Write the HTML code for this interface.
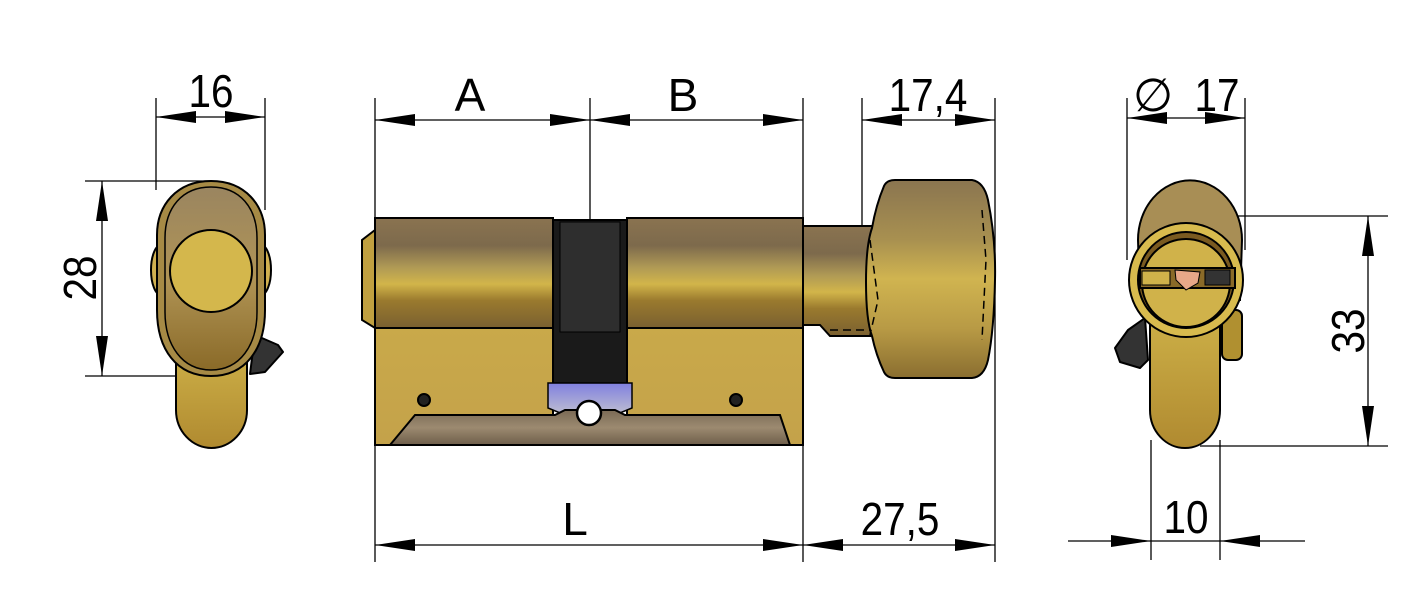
<!DOCTYPE html>
<html><head><meta charset="utf-8"><style>
html,body{margin:0;padding:0;background:#fff;width:1417px;height:606px;overflow:hidden}
svg{display:block}
text{font-family:"Liberation Sans",sans-serif;font-size:46px;fill:#000}
</style></head><body>
<svg width="1417" height="606" viewBox="0 0 1417 606" xmlns="http://www.w3.org/2000/svg">
<defs>
<linearGradient id="br" x1="0" y1="0" x2="0" y2="1">
<stop offset="0" stop-color="#8a7350"/><stop offset="0.25" stop-color="#7d6a4c"/><stop offset="0.45" stop-color="#b09a55"/><stop offset="0.6" stop-color="#d2b54a"/><stop offset="0.75" stop-color="#9a7a2e"/><stop offset="1" stop-color="#7a6030"/>
</linearGradient>
<linearGradient id="gd" x1="0" y1="0" x2="0" y2="1">
<stop offset="0" stop-color="#c9a94a"/><stop offset="1" stop-color="#c4a24a"/>
</linearGradient>
<linearGradient id="gr" x1="0" y1="0" x2="0" y2="1">
<stop offset="0" stop-color="#7a6a55"/><stop offset="0.5" stop-color="#9c8a70"/><stop offset="1" stop-color="#6e5e4a"/>
</linearGradient>
<linearGradient id="kn" x1="0" y1="0" x2="0" y2="1">
<stop offset="0" stop-color="#8a7550"/><stop offset="0.3" stop-color="#a89050"/><stop offset="0.5" stop-color="#d0b450"/><stop offset="0.75" stop-color="#b89a45"/><stop offset="1" stop-color="#8a6e30"/>
</linearGradient>
<linearGradient id="tab" x1="0" y1="0" x2="0" y2="1">
<stop offset="0" stop-color="#d0b44a"/><stop offset="1" stop-color="#b08a30"/>
</linearGradient>
<linearGradient id="lv" x1="0" y1="0" x2="0" y2="1">
<stop offset="0" stop-color="#9a8560"/><stop offset="0.5" stop-color="#b09455"/><stop offset="1" stop-color="#8a6a28"/>
</linearGradient>
<linearGradient id="blu" x1="0" y1="0" x2="0" y2="1">
<stop offset="0" stop-color="#8080e0"/><stop offset="1" stop-color="#c0c0d0"/>
</linearGradient>
</defs>

<g stroke="#000" stroke-width="1.3" fill="none">
<line x1="156" y1="98" x2="156" y2="190"/><line x1="265" y1="98" x2="265" y2="210"/>
<line x1="156" y1="117" x2="265" y2="117"/>
<line x1="85" y1="181" x2="210" y2="181"/><line x1="85" y1="376" x2="190" y2="376"/>
<line x1="102" y1="181" x2="102" y2="376"/>
<line x1="375" y1="98" x2="375" y2="562"/><line x1="590" y1="98" x2="590" y2="420"/>
<line x1="803" y1="98" x2="803" y2="562"/><line x1="862" y1="98" x2="862" y2="228"/>
<line x1="995" y1="98" x2="995" y2="562"/>
<line x1="375" y1="120" x2="803" y2="120"/><line x1="862" y1="120" x2="995" y2="120"/>
<line x1="375" y1="545" x2="995" y2="545"/>
<line x1="1127" y1="98" x2="1127" y2="260"/><line x1="1245" y1="98" x2="1245" y2="250"/>
<line x1="1127" y1="118" x2="1245" y2="118"/>
<line x1="1200" y1="216" x2="1388" y2="216"/><line x1="1200" y1="446" x2="1388" y2="446"/>
<line x1="1368" y1="216" x2="1368" y2="446"/>
<line x1="1151" y1="440" x2="1151" y2="560"/><line x1="1220" y1="440" x2="1220" y2="560"/>
<line x1="1068" y1="541" x2="1305" y2="541"/>
</g>

<g fill="#000">
<polygon points="156,117 196,111 196,123"/><polygon points="265,117 225,111 225,123"/>
<polygon points="102,181 96,221 108,221"/><polygon points="102,376 96,336 108,336"/>
<polygon points="375,120 415,114 415,126"/><polygon points="590,120 550,114 550,126"/>
<polygon points="590,120 630,114 630,126"/><polygon points="803,120 763,114 763,126"/>
<polygon points="862,120 902,114 902,126"/><polygon points="995,120 955,114 955,126"/>
<polygon points="375,545 415,539 415,551"/><polygon points="803,545 763,539 763,551"/>
<polygon points="803,545 843,539 843,551"/><polygon points="995,545 955,539 955,551"/>
<polygon points="1127,118 1167,112 1167,124"/><polygon points="1245,118 1205,112 1205,124"/>
<polygon points="1368,216 1362,256 1374,256"/><polygon points="1368,446 1362,406 1374,406"/>
<polygon points="1151,541 1111,535 1111,547"/><polygon points="1220,541 1260,535 1260,547"/>
</g>

<g>
<text x="211" y="107" text-anchor="middle" transform="translate(211 0) scale(0.88 1) translate(-211 0)">16</text>
<text transform="translate(96 278) rotate(-90) scale(0.88 1)" text-anchor="middle">28</text>
<text x="470" y="111" text-anchor="middle">A</text>
<text x="683" y="111" text-anchor="middle">B</text>
<text x="928" y="111" text-anchor="middle" transform="translate(928 0) scale(0.88 1) translate(-928 0)">17,4</text>
<text x="575" y="535" text-anchor="middle">L</text>
<text x="900" y="535" text-anchor="middle" transform="translate(900 0) scale(0.88 1) translate(-900 0)">27,5</text>
<text x="1153" y="111" text-anchor="middle">∅</text>
<text x="1217" y="111" text-anchor="middle" transform="translate(1217 0) scale(0.88 1) translate(-1217 0)">17</text>
<text transform="translate(1364 331) rotate(-90) scale(0.88 1)" text-anchor="middle">33</text>
<text x="1186" y="533" text-anchor="middle" transform="translate(1186 0) scale(0.88 1) translate(-1186 0)">10</text>
</g>

<!-- LEFT VIEW -->
<g stroke="#000" stroke-width="2">
<path d="M176,340 L247,340 L247,410 A35.5,38 0 0 1 176,410 Z" fill="url(#tab)"/>
<path d="M255,335 L278,345 L283,352 L265,372 L250,374 Z" fill="#333" stroke-linejoin="round"/>
<ellipse cx="161" cy="270" rx="10" ry="25" fill="#d0b050"/><ellipse cx="261" cy="270" rx="10" ry="25" fill="#d0b050"/>
<path d="M211,181 C245,181 265,205 265,235 L265,310 C265,350 245,376 211,376 C177,376 157,350 157,310 L157,235 C157,205 177,181 211,181 Z" fill="#a68a45"/>
<path d="M211,187 C240,187 257,208 257,238 L257,312 C257,345 240,370 211,370 C182,370 165,345 165,312 L165,238 C165,208 182,187 211,187 Z" fill="url(#lv)" stroke-width="1.5"/>
<circle cx="211" cy="271" r="41" fill="#d4b74c"/>
</g>

<!-- MAIN BODY -->
<g stroke="#000" stroke-width="2">
<path d="M375,230 L362,240 L362,320 L375,328 Z" fill="#c0a040"/>
<rect x="375" y="218" width="178" height="110" fill="url(#br)"/>
<rect x="627" y="218" width="176" height="110" fill="url(#br)"/>
<rect x="375" y="328" width="178" height="117" fill="url(#gd)"/>
<rect x="627" y="328" width="176" height="117" fill="url(#gd)"/>
<rect x="553" y="220" width="74" height="175" fill="#1a1a1a"/>
<rect x="560" y="222" width="60" height="110" fill="#2e2e2e" stroke-width="1"/>
<path d="M548,383 L632,383 L632,408 L615,415 L565,415 L548,408 Z" fill="url(#blu)" stroke-width="1.5"/>
<path d="M415,415 L555,415 L565,410 L615,410 L625,415 L780,415 L790,445 L390,445 Z" fill="url(#gr)"/>
<circle cx="589" cy="413" r="12" fill="#fff" stroke-width="2.5"/>
<circle cx="424" cy="400" r="6" fill="#222"/><circle cx="736" cy="400" r="6" fill="#222"/>
<path d="M803,226 L875,226 L875,336 L830,336 L820,325 L803,325 Z" fill="url(#br)"/>
<path d="M872,228 Q876,205 884,186 Q887,180 895,180 L972,180 Q984,182 988,200 Q996,240 995,280 Q994,330 988,360 Q984,377 972,378 L895,378 Q887,378 884,372 Q876,355 872,336 Q866,320 866,282 Q866,245 872,228 Z" fill="url(#kn)"/>
</g>
<g stroke="#000" stroke-width="1.5" stroke-dasharray="8 5" fill="none">
<path d="M870,240 L878,300 L870,335"/><path d="M982,210 L986,260 L982,340"/>
<path d="M830,330 L870,330"/>
</g>

<!-- RIGHT VIEW -->
<g stroke="#000" stroke-width="2">
<path d="M1150,300 L1220,300 L1220,410 A35,38 0 0 1 1150,410 Z" fill="url(#tab)"/>
<path d="M1128,330 L1145,318 L1148,360 L1140,368 L1120,362 L1115,348 Z" fill="#333" stroke-linejoin="round"/>
<path d="M1138,240 A48,55 0 0 1 1242,240 L1240,300 L1140,300 Z" fill="#a88e55"/>
<rect x="1222" y="310" width="20" height="50" rx="6" fill="#b09030"/>
<circle cx="1186" cy="280" r="57" fill="#d8bb4e"/>
<circle cx="1186" cy="280" r="48" fill="#7a5a20"/>
<circle cx="1186" cy="283" r="44" fill="#d0b24a"/>
<rect x="1140" y="268" width="95" height="20" fill="#8a6a28"/>
<rect x="1142" y="271" width="28" height="14" fill="#d0b24a" stroke-width="1"/>
<path d="M1175,270 L1200,272 L1198,283 L1186,290 L1176,280 Z" fill="#e8a888" stroke-width="1"/>
<rect x="1205" y="270" width="25" height="15" fill="#333" stroke-width="1"/>
</g>
</svg>
</body></html>
